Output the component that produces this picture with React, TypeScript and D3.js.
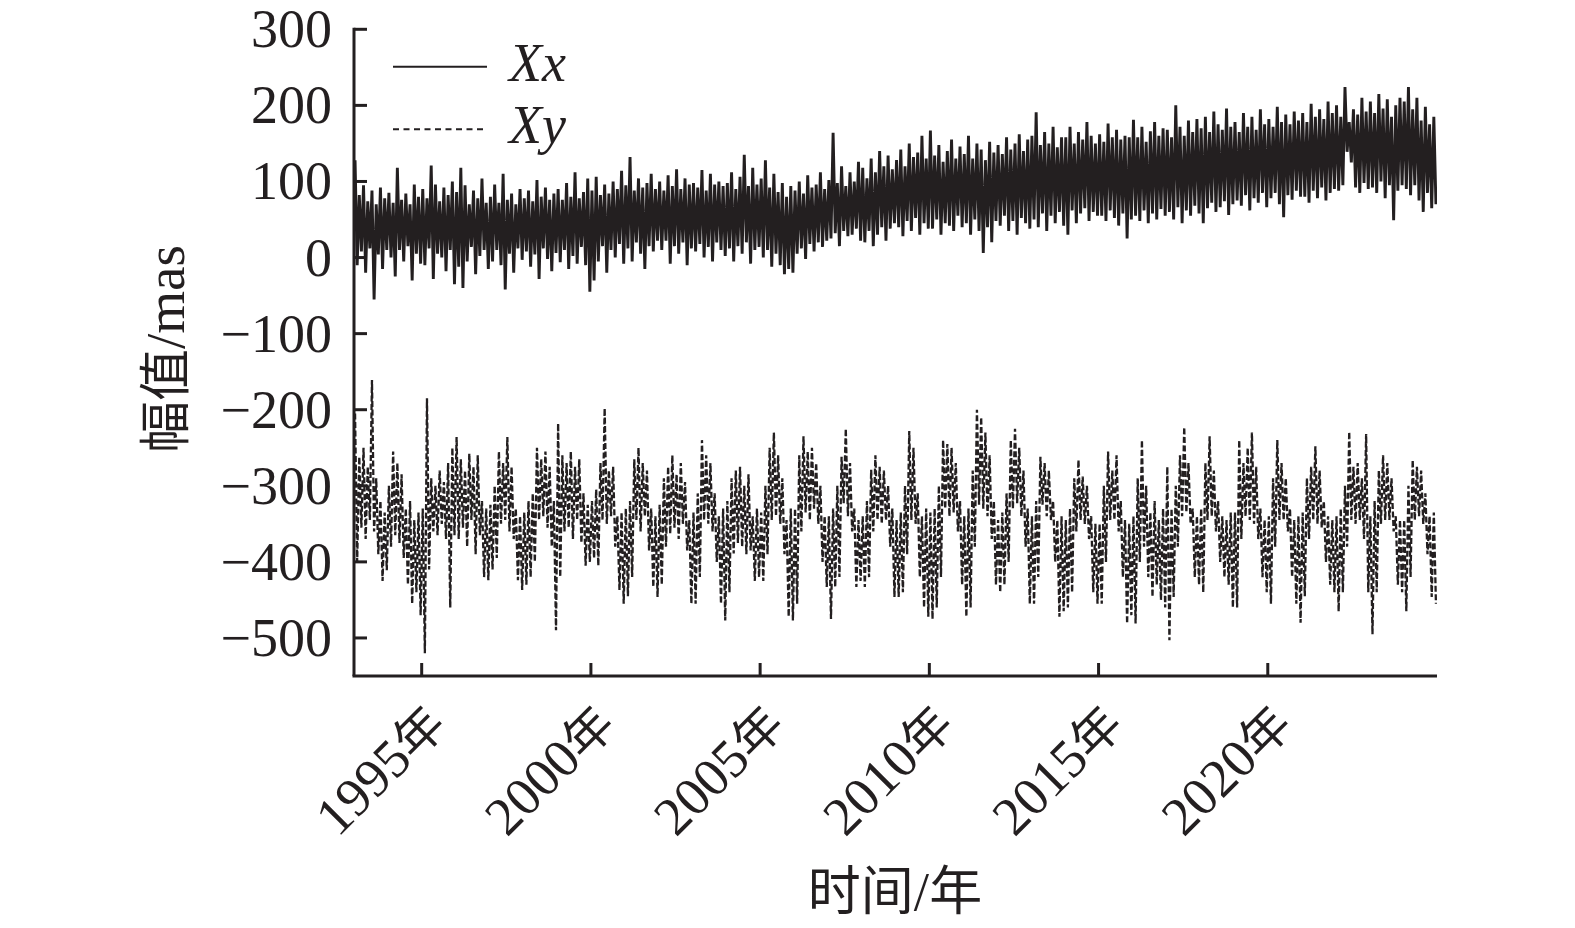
import React from "react";
import * as d3 from "d3";

// ---- data (8 readings per year, local high / low) ----
const START_YEAR = 1993;
const STEPS_PER_YEAR = 8;

const xxHigh = [
  128, 82, 95, 74, 88, 70, 92, 78,
  85, 72, 118, 76, 84, 70, 96, 80,
  90, 78, 121, 96, 74, 92, 82, 100,
  86, 118, 95, 70, 88, 78, 104, 72,
  80, 96, 72, 110, 76, 84, 70, 90,
  78, 88, 74, 102, 80, 92, 76, 84,
  90, 76, 98, 80, 112, 78, 86, 104,
  88, 106, 82, 96, 84, 100, 90, 114,
  95, 132, 88, 104, 92, 98, 110, 90,
  100, 88, 108, 94, 116, 90, 104, 96,
  98, 92, 115, 88, 110, 96, 100, 94,
  98, 112, 90, 106, 135, 94, 118, 96,
  104, 128, 92, 110, 86, 98, 80, 94,
  88, 100, 84, 108, 92, 96, 112, 90,
  102, 164, 98, 120, 94, 112, 100, 126,
  118, 104, 130, 112, 140, 120, 134, 116,
  128, 142, 120, 150, 132, 138, 160, 130,
  167, 134, 148, 126, 140, 155, 130, 146,
  136, 160, 130, 150, 142, 128, 152, 138,
  148, 136, 158, 142, 150, 162, 140, 155,
  160, 191, 148, 165, 150, 172, 145, 158,
  158, 172, 150, 165, 155, 178, 160, 150,
  162, 152, 176, 158, 168, 155, 160, 158,
  181, 158, 172, 152, 166, 178, 160, 170,
  168, 158, 200, 172, 160, 180, 165, 182,
  170, 185, 165, 192, 175, 168, 196, 172,
  178, 165, 190, 172, 185, 168, 195, 175,
  182, 172, 198, 178, 188, 175, 192, 180,
  190, 178, 202, 185, 195, 182, 205, 190,
  200, 185, 224, 178, 195, 188, 210, 192,
  205, 190, 215, 196, 208, 185, 200, 210,
  205, 224, 195, 210, 180, 198, 175, 185,
];

const xxLow = [
  -10, 8, -20, 12, -55, 4, -15, 10,
  0, -25, 10, -5, 15, -30, 5, -8,
  -10, 12, -28, 5, 0, -18, 10, -35,
  -12, -40, -5, 14, -22, 2, 10, -15,
  -5, 10, -10, -42, 5, -20, 12, -3,
  8, -12, 4, -28, 12, -2, -18, 6,
  -6, 10, -15, 2, -8, 14, -10, -45,
  -30, -5, 15, -20, 10, 0, 18, -8,
  12, -5, 20, 5, -15, 15, 8, 22,
  10, 22, -8, 15, 5, 20, -10, 12,
  8, 18, 0, 14, -5, 20, 10, 2,
  12, -5, 15, 5, 20, -8, 10, 14,
  0, 10, -12, 5, -10, -22, -15, -20,
  5, 12, -2, 18, 8, 20, 14, 22,
  25, 32, 15, 35, 28, 30, 38, 22,
  20, 35, 15, 30, 40, 22, 38, 45,
  40, 28, 48, 35, 52, 30, 45, 38,
  38, 50, 30, 45, 42, 35, 55, 40,
  45, 30, 50, 35, 6, 40, 20, 48,
  42, 55, 35, 48, 30, 52, 45, 38,
  50, 40, 58, 35, 55, 45, 60, 42,
  30, 62, 45, 58, 65, 48, 60, 55,
  55, 48, 62, 52, 42, 58, 25, 50,
  55, 48, 62, 45, 58, 50, 64, 55,
  60, 50, 66, 45, 62, 55, 68, 58,
  45, 65, 72, 60, 66, 74, 56, 70,
  75, 68, 82, 62, 78, 72, 85, 66,
  78, 85, 70, 53, 82, 76, 88, 80,
  80, 72, 88, 78, 92, 75, 85, 90,
  88, 95, 139, 125, 92, 85, 98, 90,
  92, 85, 100, 78, 95, 49, 88, 95,
  90, 82, 95, 75, 60, 85, 65, 70,
];

const xyHigh = [
  -205, -262, -250, -275, -161, -290, -320, -335,
  -300, -255, -270, -285, -330, -320, -345, -335,
  -330, -185, -290, -300, -280, -295, -270, -250,
  -236, -265, -280, -258, -275, -260, -320, -330,
  -325, -300, -255, -270, -236, -275, -330, -340,
  -335, -320, -310, -250, -265, -255, -275, -320,
  -218, -260, -270, -255, -275, -265, -310, -325,
  -320, -305, -270, -198, -280, -275, -340, -335,
  -330, -320, -265, -250, -270, -280, -330, -340,
  -325, -290, -275, -260, -285, -270, -295, -345,
  -335, -310, -240, -260, -270, -310, -340, -330,
  -320, -290, -280, -275, -300, -285, -340, -330,
  -335, -300, -250, -230, -260, -290, -345, -330,
  -330, -260, -235, -255, -250, -270, -300, -340,
  -340, -330, -300, -262, -225, -270, -330, -345,
  -340, -320, -279, -260, -275, -280, -300, -330,
  -345, -335, -300, -228, -250, -310, -340, -330,
  -335, -330, -300, -240, -245, -250, -270, -320,
  -340, -330, -280, -200, -210, -230, -260, -320,
  -345, -335, -310, -240, -225, -250, -280, -330,
  -340, -320, -262, -270, -280, -320, -345, -340,
  -345, -330, -290, -266, -288, -300, -340, -350,
  -350, -300, -255, -280, -260, -320, -345, -350,
  -340, -290, -240, -300, -335, -320, -345, -330,
  -275, -330, -300, -260, -223, -270, -330, -340,
  -330, -270, -235, -280, -320, -340, -345, -335,
  -335, -240, -270, -250, -230, -275, -330, -345,
  -340, -290, -240, -270, -290, -330, -345, -340,
  -335, -290, -275, -248, -280, -320, -340, -345,
  -340, -330, -300, -229, -275, -270, -290, -232,
  -340, -320, -280, -260, -270, -290, -340, -345,
  -345, -300, -266, -275, -280, -310, -340, -335,
];

const xyLow = [
  -400, -355, -370, -345, -360, -390, -425, -411,
  -380, -365, -375, -395, -430, -455, -440, -470,
  -520, -410, -360, -365, -350, -370, -460, -365,
  -370, -355, -380, -345, -390, -365, -420, -424,
  -410, -395, -350, -345, -360, -370, -424, -437,
  -430, -420, -400, -345, -340, -355, -380, -490,
  -420, -360, -355, -370, -345, -375, -405, -400,
  -395, -405, -345, -350, -340, -380, -437, -455,
  -445, -420, -345, -360, -340, -385, -433, -446,
  -430, -380, -363, -355, -370, -350, -385, -455,
  -455, -420, -345, -350, -360, -400, -455, -477,
  -440, -389, -375, -380, -390, -385, -425, -420,
  -425, -390, -345, -340, -350, -390, -472, -477,
  -455, -360, -335, -345, -330, -350, -400, -433,
  -475, -433, -420, -323, -340, -360, -433, -425,
  -433, -420, -360, -345, -350, -345, -380, -446,
  -446, -440, -390, -345, -350, -420, -460, -472,
  -475, -460, -420, -330, -340, -335, -360, -430,
  -472, -460, -380, -325, -330, -340, -370, -430,
  -440, -430, -400, -330, -323, -340, -380, -455,
  -455, -420, -325, -340, -345, -400, -472, -465,
  -460, -440, -360, -345, -350, -370, -440, -455,
  -455, -400, -345, -345, -360, -420, -481, -470,
  -481, -400, -380, -420, -446, -430, -450, -460,
  -503, -446, -380, -340, -335, -350, -420, -430,
  -440, -345, -340, -360, -400, -420, -430, -460,
  -460, -370, -340, -345, -350, -370, -420, -440,
  -455, -380, -345, -345, -360, -420, -455, -480,
  -445, -370, -345, -350, -355, -400, -430, -440,
  -465, -440, -380, -345, -350, -345, -370, -440,
  -495, -440, -350, -345, -345, -360, -430, -440,
  -465, -420, -345, -340, -350, -390, -446, -455,
];

const yTicks = [300, 200, 100, 0, -100, -200, -300, -400, -500];
const xTicks = [1995, 2000, 2005, 2010, 2015, 2020];
const seriesNames = ["Xx", "Xy"];

const INK = "#231f20";
const LATIN = "Liberation Serif";
const CJK = "Noto Sans CJK SC";

function toPoints(high: number[], low: number[]): [number, number][] {
  const pts: [number, number][] = [];
  high.forEach((h, i) => {
    pts.push([START_YEAR + (i + 0.25) / STEPS_PER_YEAR, h]);
    pts.push([START_YEAR + (i + 0.75) / STEPS_PER_YEAR, low[i]]);
  });
  return pts;
}

const fmt = (v: number) => (v < 0 ? "\u2212" + Math.abs(v) : String(v));

export default function App() {
  const W = 1575;
  const H = 928;
  const left = 354, right = 1437, top = 29.3, bottom = 676;
  const x = d3.scaleLinear().domain([1993, 2025]).range([left, right]);
  const y = d3.scaleLinear().domain([-550, 300]).range([bottom, top]);
  const line = d3
    .line<[number, number]>()
    .x((d) => x(d[0]))
    .y((d) => y(d[1]));

  const xxPath = line(toPoints(xxHigh, xxLow)) || "";
  const xyPath = line(toPoints(xyHigh, xyLow)) || "";
  const tickLen = 13;

  return (
    <svg
      width={W}
      height={H}
      style={{ position: "absolute", left: 0, top: 0, background: "#fff" }}
    >
      <rect width={W} height={H} fill="#fff" />
      <defs>
        <clipPath id="plot">
          <rect x={left} y={0} width={right - left} height={bottom} />
        </clipPath>
      </defs>
      <g clipPath="url(#plot)">
        <path d={xyPath} fill="none" stroke={INK} strokeWidth={2.3} strokeDasharray="6 2.5" />
        <path d={xxPath} fill="none" stroke={INK} strokeWidth={2.9} />
      </g>

      {/* axes */}
      <line x1={left} y1={top - 1.5} x2={left} y2={bottom} stroke={INK} strokeWidth={3} />
      <line x1={left - 1.5} y1={bottom} x2={right} y2={bottom} stroke={INK} strokeWidth={3} />
      {yTicks.map((v) => (
        <g key={v}>
          <line x1={left} x2={left + tickLen} y1={y(v)} y2={y(v)} stroke={INK} strokeWidth={3} />
          <text
            x={332}
            y={y(v) + 18}
            textAnchor="end"
            fontFamily={LATIN}
            fontSize={54}
            fill={INK}
          >
            {fmt(v)}
          </text>
        </g>
      ))}
      {xTicks.map((t) => (
        <g key={t}>
          <line x1={x(t)} x2={x(t)} y1={bottom} y2={bottom - tickLen} stroke={INK} strokeWidth={3} />
          <text
            transform={`translate(${x(t) + 27},727) rotate(-45)`}
            textAnchor="end"
            fontFamily={LATIN}
            fontSize={54}
            fill={INK}
          >
            {t}
            <tspan fontFamily={CJK} fontSize={49}>年</tspan>
          </text>
        </g>
      ))}

      {/* axis titles */}
      <text
        transform="translate(184,349) rotate(-90)"
        textAnchor="middle"
        fontFamily={LATIN}
        fontSize={55}
        fill={INK}
      >
        <tspan fontFamily={CJK} fontSize={52}>幅值</tspan>
        /mas
      </text>
      <text x={895} y={910} textAnchor="middle" fontFamily={LATIN} fontSize={55} fill={INK}>
        <tspan fontFamily={CJK} fontSize={53}>时间</tspan>
        /
        <tspan fontFamily={CJK} fontSize={53}>年</tspan>
      </text>

      {/* legend */}
      <line x1={393} x2={487} y1={66.7} y2={66.7} stroke={INK} strokeWidth={2} />
      <text x={509} y={81} fontFamily={LATIN} fontStyle="italic" fontSize={54} fill={INK}>
        {seriesNames[0]}
      </text>
      <line x1={393} x2={487} y1={129.3} y2={129.3} stroke={INK} strokeWidth={2} strokeDasharray="6 4.5" />
      <text x={509} y={143} fontFamily={LATIN} fontStyle="italic" fontSize={54} fill={INK}>
        {seriesNames[1]}
      </text>
    </svg>
  );
}
